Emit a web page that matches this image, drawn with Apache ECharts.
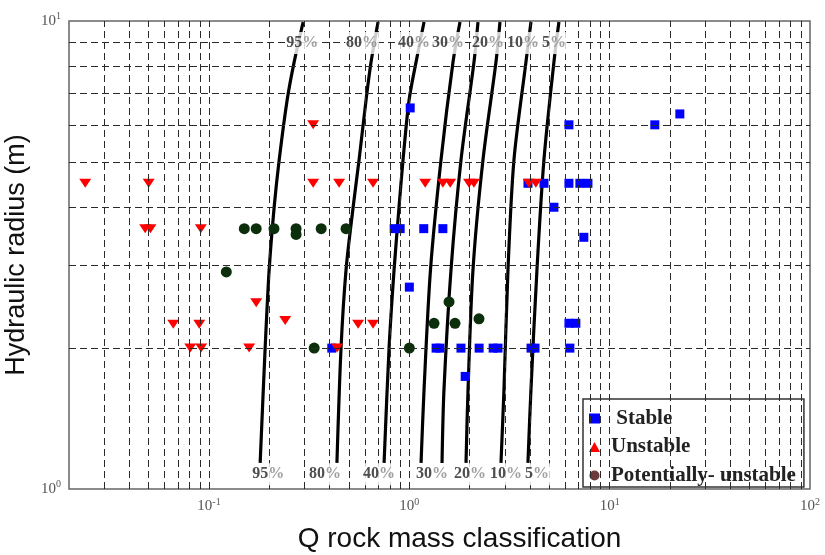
<!DOCTYPE html>
<html>
<head>
<meta charset="utf-8">
<script src="https://cdn.jsdelivr.net/npm/echarts@6/dist/echarts.min.js"></script>
<style>
  html, body { margin: 0; padding: 0; background: #fff; }
  #chart { width: 825px; height: 555px; }
</style>
</head>
<body>
<div id="chart"></div>
<script>
// stable cases (Q, hydraulic radius)
const stableQ = [1.01, 0.84, 0.90, 1.18, 1.47, 6.26, 16.8, 22.4, 3.91, 4.70, 6.26, 7.10, 7.79, 5.27, 7.43, 1.00,
  0.41, 1.36, 1.42, 1.81, 2.23, 2.62, 2.77, 4.05, 4.24, 6.33, 6.26, 6.78, 1.90];
const stableR = [6.52, 3.6, 3.6, 3.6, 3.6, 6.0, 6.0, 6.33, 4.5, 4.5, 4.5, 4.5, 4.5, 4.0, 3.45, 2.70,
  2.0, 2.0, 2.0, 2.0, 2.0, 2.0, 2.0, 2.0, 2.0, 2.0, 2.26, 2.26, 1.74];

// unstable cases
const unstableQ = [0.0241, 0.050, 0.048, 0.051, 0.091, 0.331, 0.331, 0.446, 0.659, 1.20, 1.47, 1.60, 1.985, 2.10,
  3.95, 4.28, 0.172, 0.0663, 0.0894, 0.240, 0.555, 0.659, 0.0806, 0.0914, 0.1586, 0.436];
const unstableR = [4.5, 4.5, 3.6, 3.6, 3.6, 6.0, 4.5, 4.5, 4.5, 4.5, 4.5, 4.5, 4.5, 4.5,
  4.5, 4.5, 2.50, 2.25, 2.25, 2.29, 2.25, 2.25, 2.0, 2.0, 2.0, 2.0];

// potentially unstable cases
const potentialQ = [0.150, 0.172, 0.211, 0.272, 0.272, 0.363, 0.483, 0.122, 0.335, 1.0, 1.328, 1.578, 1.69, 2.226];
const potentialR = [3.6, 3.6, 3.6, 3.6, 3.5, 3.6, 3.6, 2.91, 2.0, 2.0, 2.26, 2.51, 2.26, 2.31];

// probability curves
const curveR8 = [9.95, 8.17, 6.78, 5.05, 4.0, 2.94, 2.0, 1.137];
const curve95Q = [0.295, 0.266, 0.2455, 0.224, 0.2114, 0.1996, 0.1906, 0.180];
const curve80Q = [0.698, 0.644, 0.608, 0.561, 0.524, 0.483, 0.456, 0.435];
const curve40Q = [1.184, 1.080, 0.997, 0.930, 0.888, 0.839, 0.792, 0.748];
const curveR6 = [9.95, 8.17, 5.05, 2.94, 1.63, 1.137];
const curve30Q = [1.79, 1.652, 1.439, 1.275, 1.184, 1.144];
const curveXQ = [2.201, 2.102, 1.811, 1.614, 1.489, 1.456];
const curve20Q = [2.834, 2.706, 2.331, 2.078, 1.963, 1.918];
const curve10Q = [4.046, 3.82, 3.328, 3.107, 2.967, 2.867];
const curve5Q = [5.58, 5.269, 4.697, 4.335, 4.046, 3.908];

// curve labels
const curveLabels = ['95%', '80%', '40%', '30%', '20%', '10%', '5%'];
const topLabelQ = [0.2916, 0.581, 1.055, 1.56, 2.469, 3.691, 5.269];
const topLabelR = 8.97;
const bottomLabelQ = [0.1973, 0.3798, 0.706, 1.298, 2.007, 3.036, 4.335];
const bottomLabelR = 1.075;

// grid lines
const gridQ = [0.03, 0.04, 0.05, 0.06, 0.07, 0.08, 0.09, 0.1, 0.2, 0.3, 0.4, 0.5, 0.6, 0.7, 0.8, 0.9,
  1, 2, 3, 4, 5, 6, 7, 8, 9, 10, 20, 30, 40, 50, 60, 70, 80, 90];
const gridR = [2, 3, 4, 5, 6, 7, 8, 9];

function zip(q, r) {
  return q.map(function (v, i) { return [v, Array.isArray(r) ? r[i] : r]; });
}

const chart = echarts.init(document.getElementById('chart'));

const powLabel = {
  formatter: function (v) {
    const l = Math.log10(v);
    const e = Math.round(l);
    if (Math.abs(l - e) > 1e-6) return '';
    return '{b|10}{s|' + e + '}';
  },
  rich: {
    b: { fontSize: 15, fontFamily: 'Liberation Serif', color: '#555' },
    s: { fontSize: 10, fontFamily: 'Liberation Serif', color: '#555', padding: [0, 0, 9, 0] }
  }
};

const curveStyle = { color: '#000', width: 3.2 };
function curveSeries(name, q, r) {
  return {
    name: name,
    type: 'line',
    data: zip(q, r),
    showSymbol: false,
    smooth: 0.3,
    silent: true,
    z: 3,
    lineStyle: curveStyle
  };
}

function labelSeries(qs, r) {
  return {
    type: 'scatter',
    symbolSize: 0,
    silent: true,
    z: 5,
    data: qs.map(function (q, i) { return { name: curveLabels[i], value: [q, r] }; }),
    label: {
      show: true,
      position: 'inside',
      backgroundColor: '#fff',
      padding: [3, 1],
      formatter: function (p) { return '{n|' + p.name.replace('%', '') + '}{p|%}'; },
      rich: {
        n: { fontSize: 16, fontWeight: 'bold', fontFamily: 'Liberation Serif', color: '#222' },
        p: { fontSize: 16, fontWeight: 'bold', fontFamily: 'Liberation Serif', color: '#888' }
      }
    }
  };
}

const dash = { color: '#2a2a2a', width: 1, type: [7, 4] };

chart.setOption({
  backgroundColor: '#fff',
  animation: false,
  grid: {
    left: 69,
    top: 21,
    right: 15,
    bottom: 66,
    outerBoundsMode: 'none',
    containLabel: false,
    show: true,
    borderColor: '#666',
    borderWidth: 1.5
  },
  legend: {
    left: 583,
    top: 399,
    orient: 'vertical',
    backgroundColor: '#fff',
    borderColor: '#333',
    borderWidth: 1.5,
    borderRadius: 0,
    padding: [9, 8, 1, 6],
    itemWidth: 11,
    itemHeight: 10,
    itemGap: 7.5,
    textStyle: {
      fontFamily: 'Liberation Serif', fontWeight: 'bold', fontSize: 21, color: '#222',
      padding: [0, 0, 0, 6]
    },
    formatter: function (n) { return n === 'Stable' ? ' ' + n : n; },
    data: [
      { name: 'Stable', icon: 'rect' },
      { name: 'Unstable', icon: 'triangle' },
      { name: 'Potentially- unstable', icon: 'circle', itemStyle: { color: '#6b3a3a' } }
    ]
  },
  xAxis: {
    type: 'log',
    logBase: 10,
    min: 0.02,
    max: 100,
    name: 'Q rock mass classification',
    nameLocation: 'middle',
    nameGap: 36,
    nameTextStyle: { fontFamily: 'Liberation Sans', fontSize: 28, color: '#111', padding: [0, 0, 0, 40] },
    axisLine: { show: false },
    axisTick: { show: false },
    splitLine: { show: false },
    axisLabel: Object.assign({ margin: 8 }, powLabel)
  },
  yAxis: {
    type: 'log',
    logBase: 10,
    min: 1,
    max: 10,
    name: 'Hydraulic radius (m)',
    nameLocation: 'middle',
    nameGap: 35,
    nameTextStyle: { fontFamily: 'Liberation Sans', fontSize: 27, color: '#111' },
    axisLine: { show: false },
    axisTick: { show: false },
    splitLine: { show: false },
    axisLabel: Object.assign({ margin: 8 }, powLabel)
  },
  series: [
    {
      type: 'scatter',
      data: [],
      silent: true,
      z: 1,
      markLine: {
        silent: true,
        symbol: 'none',
        label: { show: false },
        lineStyle: dash,
        data: gridQ.map(function (q) { return { xAxis: q }; })
          .concat(gridR.map(function (r) { return { yAxis: r }; }))
      }
    },
    curveSeries('c95', curve95Q, curveR8),
    curveSeries('c80', curve80Q, curveR8),
    curveSeries('c40', curve40Q, curveR8),
    curveSeries('c30', curve30Q, curveR6),
    curveSeries('cx', curveXQ, curveR6),
    curveSeries('c20', curve20Q, curveR6),
    curveSeries('c10', curve10Q, curveR6),
    curveSeries('c5', curve5Q, curveR6),
    {
      name: 'Potentially- unstable',
      type: 'scatter',
      symbol: 'circle',
      symbolSize: 11,
      z: 4,
      itemStyle: { color: '#0b2e0b', opacity: 1 },
      data: zip(potentialQ, potentialR)
    },
    {
      name: 'Stable',
      type: 'scatter',
      symbol: 'rect',
      symbolSize: 9,
      z: 4,
      itemStyle: { color: '#0000ff', opacity: 1 },
      data: zip(stableQ, stableR)
    },
    {
      name: 'Unstable',
      type: 'scatter',
      symbol: 'path://M0,0L12,0L6,9Z',
      symbolSize: [12, 9],
      z: 4,
      itemStyle: { color: '#ff0000', opacity: 1 },
      data: zip(unstableQ, unstableR)
    },
    labelSeries(topLabelQ, topLabelR),
    labelSeries(bottomLabelQ, bottomLabelR)
  ]
});
</script>
</body>
</html>
